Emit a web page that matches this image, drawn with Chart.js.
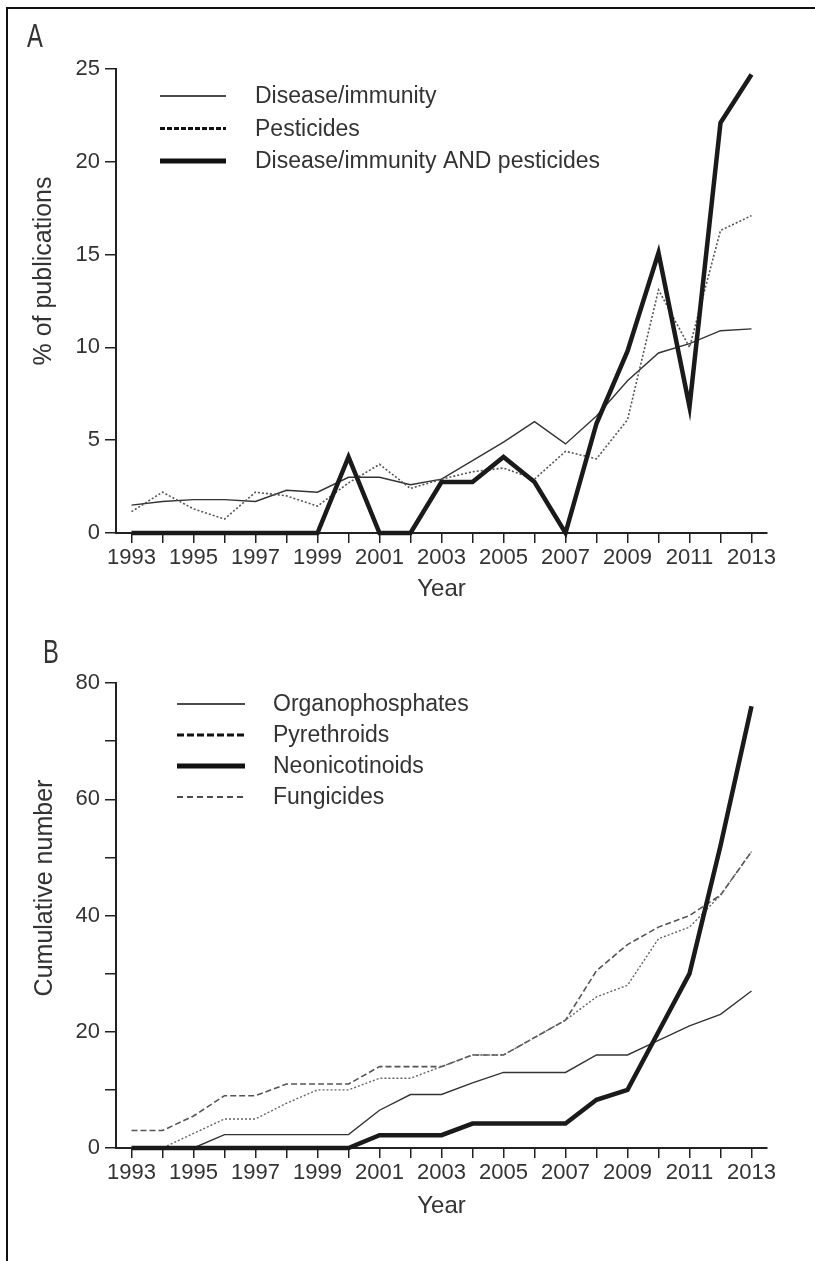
<!DOCTYPE html>
<html>
<head>
<meta charset="utf-8">
<script src="https://cdn.jsdelivr.net/npm/chart.js@4"></script>
<style>
  body { margin: 0; background: #fff; }
  #page { position: relative; width: 815px; height: 1261px; overflow: hidden; }
  #frame { position: absolute; left: 6px; top: 7px; right: -4px; bottom: -4px;
           border-left: 2px solid #111; border-top: 2px solid #111; }
  canvas { position: absolute; left: 0; }
  #chartA { top: 0; }
  #chartB { top: 620px; }
</style>
</head>
<body>
<div id="page">
  <div id="frame"></div>
  <canvas id="chartA" width="815" height="620"></canvas>
  <canvas id="chartB" width="815" height="641"></canvas>
</div>
<script>
const years = ['1993', '1994', '1995', '1996', '1997', '1998', '1999', '2000', '2001', '2002',
    '2003', '2004', '2005', '2006', '2007', '2008', '2009', '2010', '2011', '2012', '2013'];

// panel A, % of publications
const diseaseImmunity = [1.5, 1.7, 1.8, 1.8, 1.7, 2.3, 2.2, 3.0, 3.0, 2.6, 2.9, 3.9, 4.9, 6.0, 4.8, 6.3, 8.2, 9.7, 10.2, 10.9, 11.0];
const pesticides = [1.15, 2.2, 1.3, 0.75, 2.2, 2.0, 1.45, 2.7, 3.7, 2.4, 2.9, 3.3, 3.5, 2.9, 4.4, 4.0, 6.1, 13.1, 10.0, 16.3, 17.1];
const diseaseAndPesticides = [0, 0, 0, 0, 0, 0, 0, 4.1, 0, 0, 2.75, 2.75, 4.1, 2.75, 0, 5.9, 9.8, 15.1, 6.8, 22.1, 24.7];

// panel B, cumulative number
const organophosphates = [0, 0, 0, 2.3, 2.3, 2.3, 2.3, 2.3, 6.5, 9.2, 9.2, 11.2, 13, 13, 13, 16, 16, 18.5, 21, 23, 27];
const pyrethroids = [3, 3, 5.5, 9, 9, 11, 11, 11, 14, 14, 14, 16, 16, 19, 22, 30.5, 35, 38, 40, 43.5, 51];
const neonicotinoids = [0, 0, 0, 0, 0, 0, 0, 0, 2.2, 2.2, 2.2, 4.2, 4.2, 4.2, 4.2, 8.3, 10, 20, 30, 52, 76];
const fungicides = [0, 0, 2.5, 5, 5, 7.7, 10, 10, 12, 12, 14, 16, 16, 19, 22, 26, 28, 36, 38, 43.5, 51];

const yTicksA = [0, 5, 10, 15, 20, 25];
const yTicksB = [0, 20, 40, 60, 80];

Chart.defaults.font.family = '"Liberation Sans", Arial, Helvetica, sans-serif';
Chart.defaults.color = '#333';

const FONT = '"Liberation Sans", Arial, Helvetica, sans-serif';

// draws the panel letter, the rotated y title and the key
const decorPlugin = {
    id: 'decor',
    afterDraw(chart, args, opts) {
        const ctx = chart.ctx;
        ctx.save();
        ctx.fillStyle = '#333';
        // panel letter
        ctx.font = '33px "Liberation Sans Narrow", "Liberation Sans", Arial, sans-serif';
        ctx.textBaseline = 'alphabetic';
        ctx.textAlign = 'left';
        ctx.save();
        ctx.translate(opts.letterX, opts.letterY);
        ctx.scale(0.72, 1);
        ctx.fillText(opts.letter, 0, 0);
        ctx.restore();
        // y title
        ctx.save();
        ctx.translate(opts.yTitleX, opts.yTitleY);
        ctx.rotate(-Math.PI / 2);
        ctx.font = '25px ' + FONT;
        ctx.textAlign = 'center';
        ctx.textBaseline = 'middle';
        ctx.fillText(opts.yTitle, 0, 0);
        ctx.restore();
        // key
        ctx.font = '23px ' + FONT;
        ctx.textAlign = 'left';
        ctx.textBaseline = 'middle';
        opts.key.forEach((k, i) => {
            const y = opts.keyY + i * opts.keyStep;
            ctx.beginPath();
            ctx.setLineDash(k.dash);
            ctx.lineWidth = k.width;
            ctx.strokeStyle = '#111';
            ctx.moveTo(opts.keyX0, y);
            ctx.lineTo(opts.keyX1, y);
            ctx.stroke();
            ctx.setLineDash([]);
            ctx.fillStyle = '#333';
            ctx.fillText(k.label, opts.textX, y + 1);
        });
        ctx.restore();
    }
};

function xAxis(height) {
    return {
        type: 'category',
        offset: true,
        afterFit: (s) => { s.height = height; },
        grid: { display: true, drawOnChartArea: false, drawTicks: true, tickLength: 10, color: '#222', lineWidth: 1.5 },
        border: { display: true, color: '#222', width: 2 },
        ticks: {
            autoSkip: false,
            maxRotation: 0,
            padding: 2,
            color: '#333',
            font: { size: 22 },
            callback: function (val, idx) { return idx % 2 === 0 ? this.getLabelForValue(val) : ''; }
        },
        title: { display: true, text: 'Year', color: '#333', font: { size: 24 }, padding: 0 }
    };
}

function yAxis(max, step, labelled) {
    return {
        min: 0,
        max: max,
        afterFit: (s) => { s.width = 80; },
        grid: { display: true, drawOnChartArea: false, drawTicks: true, tickLength: 11, color: '#222', lineWidth: 1.5 },
        border: { display: true, color: '#222', width: 2 },
        ticks: {
            stepSize: step,
            padding: 5,
            color: '#333',
            font: { size: 22 },
            callback: (v) => labelled.includes(v) ? String(v) : ''
        }
    };
}

function line(label, values, width, color, dash) {
    return {
        label: label,
        data: values,
        borderColor: color,
        borderWidth: width,
        borderDash: dash,
        pointRadius: 0,
        tension: 0,
        fill: false,
        clip: false,
        borderJoinStyle: 'miter'
    };
}

new Chart(document.getElementById('chartA'), {
    type: 'line',
    data: {
        labels: years,
        datasets: [
            line('Disease/immunity AND pesticides', diseaseAndPesticides, 4.5, '#1a1a1a', []),
            line('Pesticides', pesticides, 1.6, '#555', [2, 2]),
            line('Disease/immunity', diseaseImmunity, 1.4, '#333', [])
        ]
    },
    options: {
        responsive: false,
        animation: false,
        layout: { padding: { left: 36, right: 48, top: 69, bottom: 16 } },
        scales: { x: xAxis(71), y: yAxis(25, 5, yTicksA) },
        plugins: {
            legend: { display: false },
            tooltip: { enabled: false },
            decor: {
                letter: 'A', letterX: 27, letterY: 47,
                yTitle: '% of publications', yTitleX: 44, yTitleY: 271,
                keyX0: 160, keyX1: 226, textX: 255, keyY: 96, keyStep: 32.5,
                key: [
                    { label: 'Disease/immunity', width: 1.4, dash: [] },
                    { label: 'Pesticides', width: 3, dash: [5, 2] },
                    { label: 'Disease/immunity AND pesticides', width: 5, dash: [] }
                ]
            }
        }
    },
    plugins: [decorPlugin]
});

new Chart(document.getElementById('chartB'), {
    type: 'line',
    data: {
        labels: years,
        datasets: [
            line('Neonicotinoids', neonicotinoids, 4.5, '#1a1a1a', []),
            line('Fungicides', fungicides, 1.4, '#666', [2, 2]),
            line('Pyrethroids', pyrethroids, 1.6, '#555', [6, 3]),
            line('Organophosphates', organophosphates, 1.4, '#333', [])
        ]
    },
    options: {
        responsive: false,
        animation: false,
        layout: { padding: { left: 36, right: 48, top: 63, bottom: 40 } },
        scales: { x: xAxis(73), y: yAxis(80, 10, yTicksB) },
        plugins: {
            legend: { display: false },
            tooltip: { enabled: false },
            decor: {
                letter: 'B', letterX: 43, letterY: 43,
                yTitle: 'Cumulative number', yTitleX: 45, yTitleY: 268,
                keyX0: 177, keyX1: 245, textX: 273, keyY: 84, keyStep: 31,
                key: [
                    { label: 'Organophosphates', width: 1.4, dash: [] },
                    { label: 'Pyrethroids', width: 3, dash: [7, 3] },
                    { label: 'Neonicotinoids', width: 5, dash: [] },
                    { label: 'Fungicides', width: 1.3, dash: [6, 4] }
                ]
            }
        }
    },
    plugins: [decorPlugin]
});
</script>
</body>
</html>
